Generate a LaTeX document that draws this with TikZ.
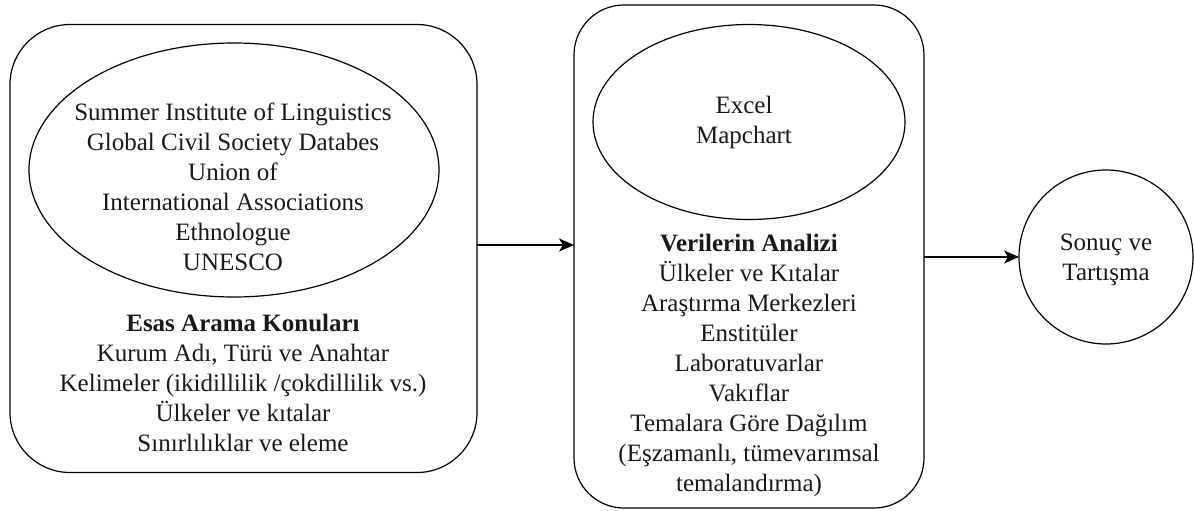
\documentclass[tikz,border=0pt]{standalone}
\usepackage{fontspec}
\setmainfont{Liberation Serif}
\usetikzlibrary{shapes.geometric,arrows.meta}
\begin{document}
\begin{tikzpicture}[x=1pt,y=-1pt,
  every node/.style={inner sep=0pt,outer sep=0pt},
  txt/.style={align=center,font=\fontsize{25}{30}\selectfont,text=black!90},
  bigbox/.style={draw,rounded corners=#1,line width=1.2pt},
  oval/.style={draw,ellipse,line width=1.2pt},
  arr/.style={-{Stealth[length=15pt,width=13pt,inset=4pt]},line width=1.2pt}]
\useasboundingbox (0,0) rectangle (1194,511);
% left box
\node[bigbox=60pt,minimum width=467pt,minimum height=448pt] (lb) at (243.5,248.5) {};
\node[oval,minimum width=410pt,minimum height=254pt] (le) at (234,170) {};
\node[txt] (lt) at (233,187) {Summer Institute of Linguistics\\Global Civil Society Databes\\Union of\\International Associations\\Ethnologue\\UNESCO};
\node[txt] (lk) at (243,383) {\textbf{Esas Arama Konuları}\\Kurum Adı, Türü ve Anahtar\\Kelimeler (ikidillilik /çokdillilik vs.)\\Ülkeler ve kıtalar\\Sınırlılıklar ve eleme};
% middle box
\node[bigbox=50pt,minimum width=350pt,minimum height=503pt] (mb) at (749,256.5) {};
\node[oval,minimum width=312pt,minimum height=195pt] (me) at (749,122) {};
\node[txt] (mt) at (744,122.5) {Excel\\Mapchart};
\node[txt] (mk) at (749,365) {\textbf{Verilerin Analizi}\\Ülkeler ve Kıtalar\\Araştırma Merkezleri\\Enstitüler\\Laboratuvarlar\\Vakıflar\\Temalara Göre Dağılım\\(Eşzamanlı, tümevarımsal\\temalandırma)};
% circle
\node[draw,circle,line width=1.2pt,minimum size=174pt] (c) at (1106,257) {};
\node[txt] (ct) at (1106,260) {Sonuç ve\\Tartışma};
% arrows
\draw[arr] ([yshift=3.5pt]lb.east) -- ([yshift=3.5pt]lb.east -| mb.west);
\draw[arr] (mb.east |- c.west) -- (c.west);
\end{tikzpicture}
\end{document}
